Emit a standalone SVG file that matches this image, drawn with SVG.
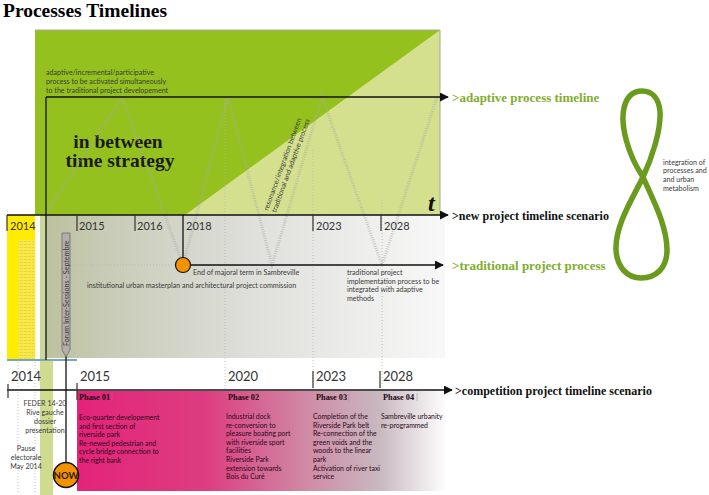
<svg xmlns="http://www.w3.org/2000/svg" width="709" height="495" viewBox="0 0 709 495">
<defs>
<style>
.hd{font-family:"Liberation Serif","Times New Roman",serif;font-weight:bold}
.tx{font-family:Lato,"Liberation Sans",sans-serif;font-size:7.1px;fill:#3a3a3a}
.ph{font-family:Lato,"Liberation Sans",sans-serif;font-size:6.9px;fill:#2a0a18}
.pl{font-family:"Liberation Serif",serif;font-weight:bold;font-size:8.3px;fill:#1a0a10}
.yr{font-family:Lato,"Liberation Sans",sans-serif;font-size:11px;fill:#333}
.yr2{font-family:Lato,"Liberation Sans",sans-serif;font-size:13px;fill:#333}
.tick{stroke:#333;stroke-width:1.2}
.zig{fill:none;stroke:#a9a9a9;stroke-opacity:.55;stroke-width:3;stroke-dasharray:1 1.3}
.guide{stroke:#b5b5b5;stroke-width:.8;stroke-dasharray:1 2}
.axis{stroke:#111;stroke-width:1.3;fill:none}
.green{fill:#7fae2e}
</style>
<marker id="arr" viewBox="0 0 10 10" refX="9" refY="5" markerWidth="9" markerHeight="9" markerUnits="userSpaceOnUse" orient="auto">
<path d="M0,0 L10,5 L0,10 Z" fill="#111"/>
</marker>
<linearGradient id="greyFade" x1="0" y1="0" x2="1" y2="0">
<stop offset="0" stop-color="#bcc19e"/>
<stop offset="0.15" stop-color="#c8cbb6"/>
<stop offset="0.5" stop-color="#dededa"/>
<stop offset="1" stop-color="#f8f8f8"/>
</linearGradient>
<linearGradient id="magFade" x1="0" y1="0" x2="1" y2="0">
<stop offset="0" stop-color="#e4237a"/>
<stop offset="0.35" stop-color="#dd3d80"/>
<stop offset="0.62" stop-color="#cf8aa5"/>
<stop offset="0.82" stop-color="#c9b9c1"/>
<stop offset="1" stop-color="#ffffff"/>
</linearGradient>
<pattern id="stripes" width="4" height="3" patternUnits="userSpaceOnUse">
<rect width="4" height="3" fill="#f9e84c"/>
<line x1="0" y1="1.5" x2="3" y2="1.5" stroke="#e7d22e" stroke-width=".8"/>
</pattern>
</defs>

<rect width="709" height="495" fill="#ffffff"/>

<g id="title">
<text class="hd" x="3" y="17" font-size="19.5">Processes Timelines</text>
</g>

<g id="adaptive-field">
<rect x="35" y="30" width="405" height="185" fill="#94c11e"/>
<polygon points="440,30 440,215 185,215" fill="#d4e08e"/>
<polyline points="35,30 440,30 440,215" fill="none" stroke="#a8ab9c" stroke-width="1"/>
<text class="tx" x="46" y="74.5">adaptive/incremental/participative</text>
<text class="tx" x="46" y="83.5">process to be activated simultaneously</text>
<text class="tx" x="46" y="92.5">to the traditional project developement</text>
<text class="hd" x="118" y="148" font-size="19.5" text-anchor="middle" fill="#1a1a1a">in between</text>
<text class="hd" x="120" y="167" font-size="19.5" text-anchor="middle" fill="#1a1a1a">time strategy</text>
<text x="428" y="211" font-family="Liberation Serif,serif" font-weight="bold" font-style="italic" font-size="24" fill="#111">t</text>
</g>

<g id="traditional-field">
<rect x="7" y="215" width="28" height="145" fill="#ffec00"/>
<rect x="18" y="240" width="16" height="120" fill="url(#stripes)"/>
<rect x="40" y="215" width="6" height="145" fill="#cbd79a"/>
<rect x="46" y="215" width="399" height="143" fill="url(#greyFade)"/>
<line x1="7" y1="360" x2="77" y2="360" stroke="#7aa6b8" stroke-width="2"/>
</g>

<g id="competition-field">
<rect x="40" y="361" width="13" height="134" fill="#cfdc8f"/>
<line x1="18" y1="362" x2="18" y2="492" class="guide"/>
<line x1="35" y1="362" x2="35" y2="492" class="guide"/>
<rect x="77" y="391" width="370" height="100" fill="url(#magFade)"/>
</g>

<g id="guides">
<line x1="75" y1="265" x2="176" y2="265" class="guide"/>
<line x1="225" y1="100" x2="225" y2="390" class="guide"/>
<line x1="313" y1="150" x2="313" y2="390" class="guide"/>
<line x1="382" y1="200" x2="382" y2="390" class="guide"/>
</g>

<g id="zigzag">
<polyline class="zig" points="46,213 122,97 183,265 228,97 272,265 322,97 382,265 437,97"/>
</g>

<g id="connectors">
<line class="axis" x1="46" y1="97" x2="448" y2="97" marker-end="url(#arr)"/>
<line class="axis" x1="46" y1="97" x2="46" y2="360"/>
<line class="axis" x1="7" y1="215" x2="448" y2="215" marker-end="url(#arr)"/>
<line class="axis" x1="191" y1="265" x2="443" y2="265" marker-end="url(#arr)"/>
<line class="axis" x1="7" y1="390" x2="452" y2="390" marker-end="url(#arr)"/>
<line class="axis" x1="183" y1="215" x2="183" y2="258"/>
<line class="axis" x1="66" y1="355" x2="66" y2="462"/>
<line class="tick" x1="7" y1="215" x2="7" y2="231"/>
<line class="tick" x1="77" y1="215" x2="77" y2="231"/>
<line class="tick" x1="135" y1="215" x2="135" y2="231"/>
<line class="tick" x1="313" y1="215" x2="313" y2="231"/>
<line class="tick" x1="381" y1="215" x2="381" y2="231"/>
<line class="tick" x1="8" y1="384" x2="8" y2="398"/>
<line class="tick" x1="77" y1="383" x2="77" y2="400"/>
<line class="tick" x1="313" y1="371" x2="313" y2="388" stroke-width=".9"/>
<line class="tick" x1="380" y1="371" x2="380" y2="388" stroke-width=".9"/>
</g>

<g id="years-top">
<text class="yr" x="10" y="230">2014</text>
<text class="yr" x="79" y="230">2015</text>
<text class="yr" x="137" y="230">2016</text>
<text class="yr" x="186" y="230">2018</text>
<text class="yr" x="316" y="230">2023</text>
<text class="yr" x="384" y="230">2028</text>
</g>

<g id="years-bottom">
<text class="yr2" x="11" y="381">2014</text>
<text class="yr2" x="80" y="381">2015</text>
<text class="yr2" x="228" y="381">2020</text>
<text class="yr2" x="316" y="381">2023</text>
<text class="yr2" x="383" y="381">2028</text>
</g>

<g id="labels-right">
<text class="hd green" x="452" y="101.5" font-size="13">&gt;adaptive process timeline</text>
<text class="hd" x="452" y="219.5" font-size="12" fill="#111">&gt;new project timeline scenario</text>
<text class="hd green" x="452" y="270" font-size="13">&gt;traditional project process</text>
<text class="hd" x="455" y="394.5" font-size="12" fill="#111">&gt;competition project timeline scenario</text>
</g>

<g id="integration">
<path d="M643,177 C628,155 620,125 624,108 C627,95 634,91 642,91 C652,91 659,98 660,112 C661,130 652,158 643,177 C633,198 615,225 616,250 C617,268 628,278 641,278 C656,278 667,268 667,250 C667,225 652,198 643,177 Z" fill="none" stroke="#6a9a1e" stroke-width="5.5"/>
<text class="tx" x="663" y="164.5" font-size="6.8">integration of</text>
<text class="tx" x="663" y="173.2" font-size="6.8">processes and</text>
<text class="tx" x="663" y="181.9" font-size="6.8">and urban</text>
<text class="tx" x="663" y="190.6" font-size="6.8">metabolism</text>
</g>

<g id="resonance">
<text class="tx" transform="translate(268,211) rotate(-70)">resonance/integration between</text>
<text class="tx" transform="translate(276,213) rotate(-70)">traditional and adaptive process</text>
</g>

<g id="mayor-term">
<circle cx="183" cy="265" r="7.5" fill="#f39200" stroke="#111" stroke-width="1.2"/>
<text class="tx" x="193" y="274.5">End of majoral term in Sambreville</text>
<text class="tx" x="87" y="288">institutional urban masterplan and architectural project commission</text>
</g>

<g id="traditional-note">
<text class="tx" x="347" y="275">traditional project</text>
<text class="tx" x="347" y="283.7">implementation process to be</text>
<text class="tx" x="347" y="292.4">integrated with adaptive</text>
<text class="tx" x="347" y="301.1">methods</text>
</g>

<g id="forum">
<path d="M62,233 H70 V350 L66,357 L62,350 Z" fill="#b3adab" stroke="#6d6d6d" stroke-width=".8"/>
<text class="tx" transform="translate(68.6,346) rotate(-90)" font-size="7">Forum Inter-Sessions - Septembre</text>
</g>

<g id="now">
<circle cx="66" cy="475" r="12.5" fill="#f39200" stroke="#111" stroke-width="1.5"/>
<text x="66" y="478.5" text-anchor="middle" font-family="Lato,'Liberation Sans',sans-serif" font-weight="bold" font-size="9.5" fill="#2a1a00">NOW</text>
</g>

<g id="feder">
<text class="tx" x="45" y="406" text-anchor="middle">FEDER 14-20</text>
<text class="tx" x="45" y="415" text-anchor="middle">Rive gauche</text>
<text class="tx" x="45" y="424" text-anchor="middle">dossier</text>
<text class="tx" x="45" y="433" text-anchor="middle">presentation</text>
<text class="tx" x="26" y="451" text-anchor="middle">Pause</text>
<text class="tx" x="26" y="460" text-anchor="middle">electorale</text>
<text class="tx" x="26" y="469" text-anchor="middle">May 2014</text>
</g>

<g id="phase01">
<text class="pl" x="79" y="400">Phase 01</text>
<line x1="112" y1="393" x2="112" y2="401" stroke="#c07090" stroke-width=".6"/>
<text class="ph" x="79" y="420">Eco-quarter developement</text>
<text class="ph" x="79" y="428.5">and first section of</text>
<text class="ph" x="79" y="437">riverside park</text>
<text class="ph" x="79" y="445.5">Re-newed pedestrian and</text>
<text class="ph" x="79" y="454">cycle bridge connection to</text>
<text class="ph" x="79" y="462.5">the right bank</text>
</g>

<g id="phase02">
<text class="pl" x="228" y="400">Phase 02</text>
<line x1="261" y1="393" x2="261" y2="401" stroke="#b08090" stroke-width=".6"/>
<text class="ph" x="226" y="419">Industrial dock</text>
<text class="ph" x="226" y="427.6">re-conversion to</text>
<text class="ph" x="226" y="436.2">pleasure boating port</text>
<text class="ph" x="226" y="444.8">with riverside sport</text>
<text class="ph" x="226" y="453.4">facilities</text>
<text class="ph" x="226" y="462">Riverside Park</text>
<text class="ph" x="226" y="470.6">extension towards</text>
<text class="ph" x="226" y="479.2">Bois du Curé</text>
</g>

<g id="phase03">
<text class="pl" x="316" y="400">Phase 03</text>
<line x1="349" y1="393" x2="349" y2="401" stroke="#a09098" stroke-width=".6"/>
<text class="ph" x="313" y="419">Completion of the</text>
<text class="ph" x="313" y="427.6">Riverside Park belt</text>
<text class="ph" x="313" y="436.2">Re-connection of the</text>
<text class="ph" x="313" y="444.8">green voids and the</text>
<text class="ph" x="313" y="453.4">woods to the linear</text>
<text class="ph" x="313" y="462">park</text>
<text class="ph" x="313" y="470.6">Activation of river taxi</text>
<text class="ph" x="313" y="479.2">service</text>
</g>

<g id="phase04">
<text class="pl" x="383" y="400">Phase 04</text>
<line x1="417" y1="393" x2="417" y2="401" stroke="#a0a0a0" stroke-width=".6"/>
<text class="ph" x="381" y="419">Sambreville urbanity</text>
<text class="ph" x="381" y="427.6">re-programmed</text>
</g>
</svg>
